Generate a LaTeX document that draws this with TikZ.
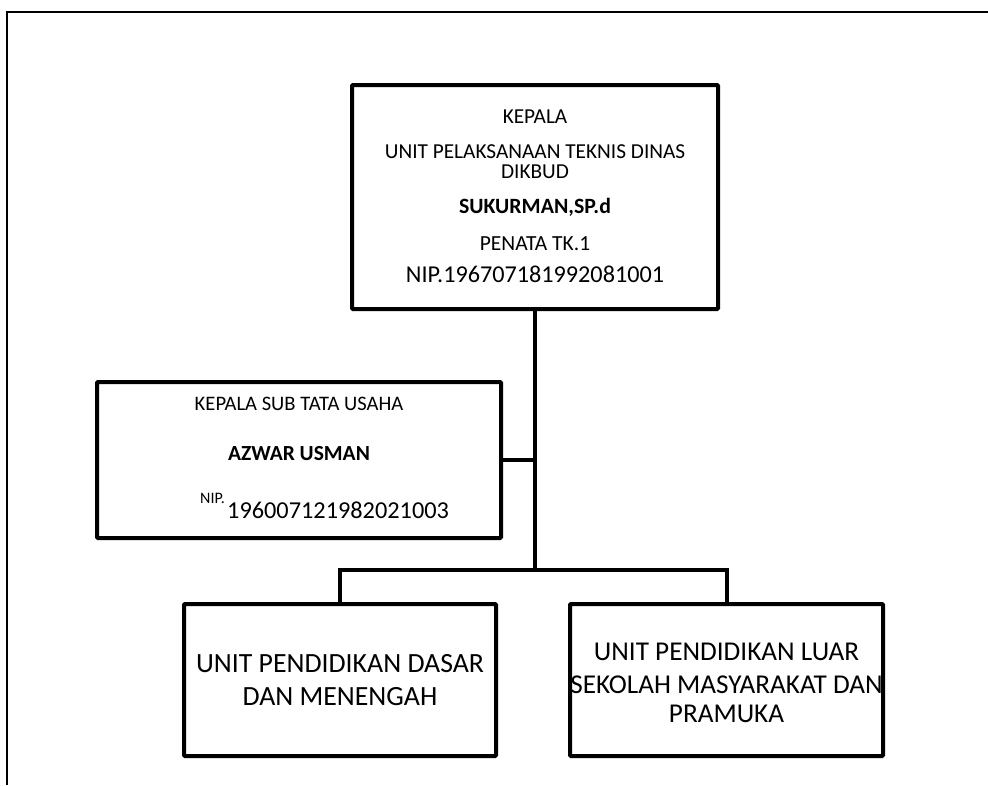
\documentclass[tikz,border=0pt]{standalone}
\usepackage{fontspec}
\setmainfont{Carlito}
\begin{document}
\begin{tikzpicture}[x=1pt,y=-1pt,
  box/.style={draw, line width=4pt, rounded corners=1pt, inner sep=0pt},
  conn/.style={line width=4pt},
  frame/.style={line width=2pt},
  txt/.style={anchor=base, inner sep=0pt},
  fs/.style={font=\fontsize{#1}{#1}\selectfont}]
\useasboundingbox (0,0) rectangle (988,785);
% page frame
\coordinate (fa) at (7,785);
\coordinate (fb) at (7,12);
\coordinate (fc) at (988,12);
\draw[frame] (fa) -- (fb) -- (fc);
% boxes
\node[box, minimum width=366pt, minimum height=224pt] (top) at (535,197) {};
\node[box, minimum width=404pt, minimum height=156pt] (lbox) at (299,460) {};
\node[box, minimum width=312pt, minimum height=152pt] (bl) at (340,680) {};
\node[box, minimum width=313pt, minimum height=152pt] (br) at (726.5,680) {};
% connectors
\coordinate (j1) at (535,570);
\draw[conn] (top.south) -- (j1);
\draw[conn] (lbox.east) -- (lbox.east -| top.south);
\draw[conn] (bl.north) |- (j1) -| (br.north);
% top box text
\node[txt, fs=21.3] (t1) at (535,123) {KEPALA};
\node[txt, fs=21.3] (t2) at (535,158) {UNIT PELAKSANAAN TEKNIS DINAS};
\node[txt, fs=21.3] (t3) at (535,178) {DIKBUD};
\node[txt, fs=21.8] (t4) at (535,213) {\textbf{SUKURMAN,SP.d}};
\node[txt, fs=21.5] (t5) at (535,250) {PENATA TK.1};
\node[txt, fs=24.2] (t6) at (535,282) {NIP.196707181992081001};
% left box text
\node[txt, fs=20.6] (l1) at (299,410) {KEPALA SUB TATA USAHA};
\node[txt, fs=21.5] (l2) at (299,460) {\textbf{AZWAR USMAN}};
\node[txt, fs=16, anchor=base east] (l3) at (225,503) {NIP.};
\node[txt, fs=24.3, anchor=base west] (l4) at (227,518) {196007121982021003};
% bottom-left text
\node[txt, fs=27.8] (b1) at (340,672) {UNIT PENDIDIKAN DASAR};
\node[txt, fs=27.8] (b2) at (340,705) {DAN MENENGAH};
% bottom-right text
\node[txt, fs=27.2] (r1) at (726.5,660) {UNIT PENDIDIKAN LUAR};
\node[txt, fs=27.2] (r2) at (726.5,693) {SEKOLAH MASYARAKAT DAN};
\node[txt, fs=27.2] (r3) at (726.5,722) {PRAMUKA};
\end{tikzpicture}
\end{document}
